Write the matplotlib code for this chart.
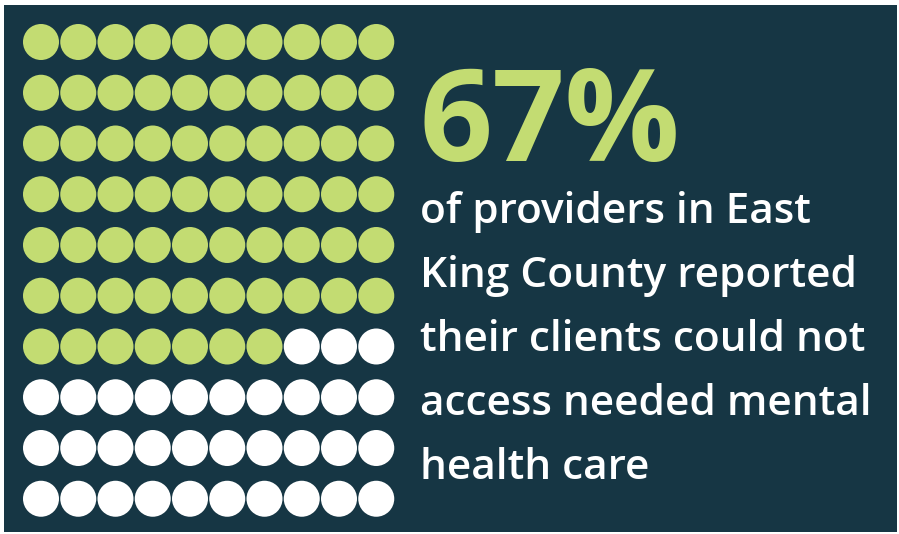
import numpy as np
import matplotlib.pyplot as plt
from matplotlib.patches import Rectangle, Circle

# Share of providers whose clients could not access care
percent = 67
grid_rows = 10
grid_cols = 10
headline = "67%"
caption_lines = [
    "of providers in East",
    "King County reported",
    "their clients could not",
    "access needed mental",
    "health care",
]

BG = "#163644"
GREEN = "#c3dc72"
WHITE = "#ffffff"

W, H = 899, 534
fig = plt.figure(figsize=(W / 100, H / 100), dpi=100)
fig.patch.set_facecolor("white")
ax = fig.add_axes([0, 0, 1, 1])
ax.set_xlim(0, W)
ax.set_ylim(H, 0)
ax.axis("off")

# dark panel
ax.add_patch(Rectangle((4, 5), 893, 527, facecolor=BG, edgecolor="none"))

# 10x10 dot grid, filled row by row
x0, dx = 41, 37.25
y0, dy = 42, 50.75
r = 18
for i in range(grid_rows * grid_cols):
    row, col = divmod(i, grid_cols)
    color = GREEN if i < percent else WHITE
    ax.add_patch(Circle((x0 + col * dx, y0 + row * dy), r,
                        facecolor=color, edgecolor="none"))

ax.text(420, 161, headline, fontsize=92, fontweight="bold", color=GREEN,
        family="Open Sans", va="baseline", ha="left")

for k, line in enumerate(caption_lines):
    ax.text(420, 223 + k * 64, line, fontsize=30.5, fontweight="semibold",
            color=WHITE, family="Open Sans", va="baseline", ha="left")

fig.savefig("out.png", dpi=100, facecolor="white")
